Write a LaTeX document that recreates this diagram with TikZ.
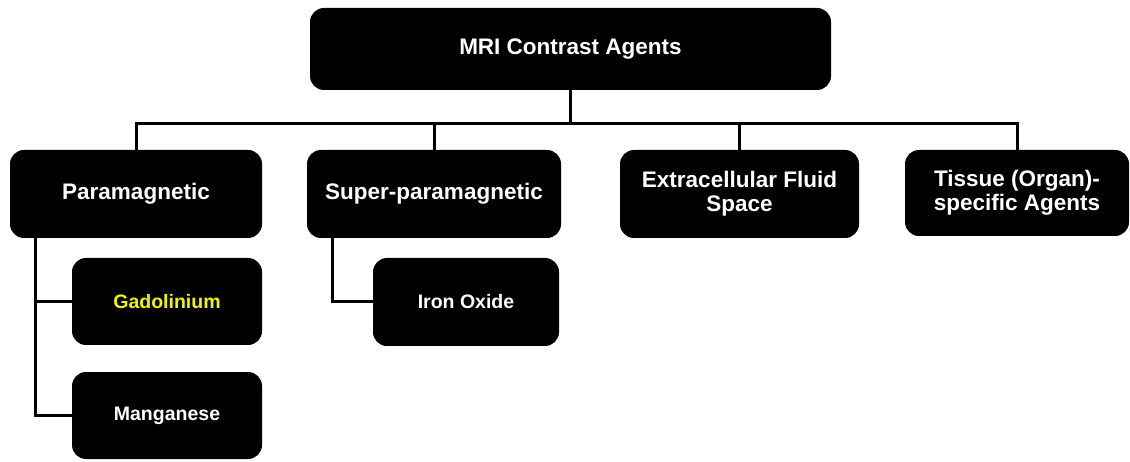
\documentclass[tikz,border=0pt]{standalone}
\usepackage{fontspec}
\setmainfont{Liberation Sans}
\begin{document}
\begin{tikzpicture}[x=1pt,y=-1pt,
  box/.style={draw=none, fill=black, rounded corners=14pt, text=white,
    font=\bfseries\fontsize{22.5}{24}\selectfont, align=center, inner sep=0pt},
  subbox/.style={box, font=\bfseries\fontsize{19.5}{22}\selectfont},
  link/.style={line width=3pt, draw=black}]
\useasboundingbox (0,0) rectangle (1130,462);

% top level
\node[box, minimum width=521pt, minimum height=82pt] (root) at (570.5,49) {MRI Contrast Agents};

% categories
\node[box, minimum width=252pt, minimum height=88pt] (para) at (136,194) {Paramagnetic};
\node[box, minimum width=254pt, minimum height=88pt] (super) at (434,194) {Super-paramagnetic};
\node[box, minimum width=239pt, minimum height=88pt] (extra) at (739.5,194) {Extracellular Fluid\\Space};
\node[box, minimum width=224pt, minimum height=86pt] (tissue) at (1017,193) {Tissue (Organ)-\\specific Agents};

% agents
\node[subbox, minimum width=190pt, minimum height=87pt, text={rgb,255:red,240;green,245;blue,0}] (gad) at (167,301.5) {Gadolinium};
\node[subbox, minimum width=190pt, minimum height=87pt] (mang) at (167,415.5) {Manganese};
\node[subbox, minimum width=186pt, minimum height=88pt] (iron) at (466,302) {Iron Oxide};

% connectors
\coordinate (bus) at (570.5,124);
\begin{scope}[on background layer/.try]
\draw[link] (root.south) -- (bus);
\draw[link] (para.north) |- (bus) -| (tissue.north);
\draw[link] (super.north) -- (super.north |- bus);
\draw[link] (extra.north) -- (extra.north |- bus);
\coordinate (ptrunk) at ([xshift=26pt]para.south west);
\coordinate (strunk) at ([xshift=26pt]super.south west);
\draw[link] (ptrunk) |- (gad.west);
\draw[link] (ptrunk) |- (mang.west);
\draw[link] (strunk) |- (iron.west);
\end{scope}
\end{tikzpicture}
\end{document}
